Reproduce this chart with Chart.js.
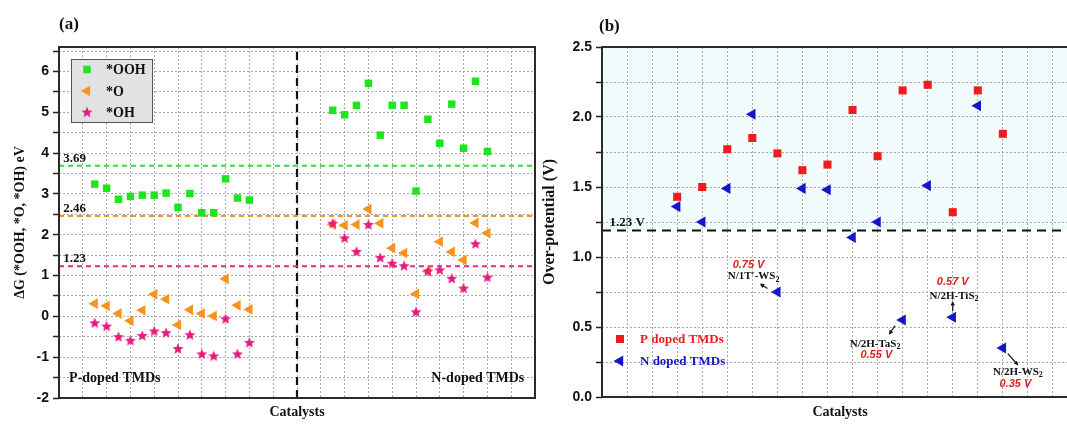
<!doctype html>
<html>
<head>
<meta charset="utf-8">
<title>Free energies and over-potentials of doped TMDs</title>
<script src="https://cdn.jsdelivr.net/npm/chart.js@4.4.0/dist/chart.umd.min.js"></script>
<style>
html, body { margin:0; padding:0; background:#fff; overflow:hidden; }
#wrap { position:relative; width:1067px; height:424px; overflow:hidden; }
#chartA { position:absolute; left:0; top:0; }
#chartB { position:absolute; left:540px; top:0; }
</style>
</head>
<body>
<div id="wrap">
<canvas id="chartA" width="540" height="424"></canvas>
<canvas id="chartB" width="540" height="424"></canvas>
</div>

<script>
// ---- panel (a) data : catalyst slots on the x axis + dG values ----
var catP = [3, 4, 5, 6, 7, 8, 9, 10, 11, 12, 13, 14, 15, 16];
var catN = [23, 24, 25, 26, 27, 28, 29, 30, 31, 32, 33, 34, 35, 36];
var oohP = [3.24, 3.14, 2.87, 2.94, 2.97, 2.97, 3.02, 2.67, 3.01, 2.54, 2.54, 3.37, 2.90, 2.85];
var oP   = [0.31, 0.26, 0.07, -0.11, 0.15, 0.54, 0.42, -0.21, 0.16, 0.07, 0.01, 0.92, 0.27, 0.17];
var ohP  = [-0.17, -0.25, -0.51, -0.60, -0.48, -0.37, -0.41, -0.80, -0.46, -0.93, -0.98, -0.07, -0.93, -0.65];
var oohN = [5.05, 4.94, 5.17, 5.71, 4.44, 5.17, 5.17, 3.07, 4.83, 4.24, 5.20, 4.12, 5.76, 4.04];
var oN   = [2.25, 2.23, 2.25, 2.63, 2.28, 1.67, 1.55, 0.55, 1.10, 1.83, 1.58, 1.38, 2.29, 2.04];
var ohN  = [2.27, 1.91, 1.58, 2.24, 1.43, 1.29, 1.23, 0.10, 1.10, 1.13, 0.92, 0.68, 1.77, 0.95];
var refLines  = [3.69, 2.46, 1.23];
var refLabels = ['3.69', '2.46', '1.23'];
var splitAt = 20;   // P-doped | N-doped divider

// ---- panel (b) data : over-potential (V) ----
var catB  = [3, 4, 5, 6, 7, 8, 9, 10, 11, 12, 13, 14, 15, 16];
var overP = [1.43, 1.50, 1.77, 1.85, 1.74, 1.62, 1.66, 2.05, 1.72, 2.19, 2.23, 1.32, 2.19, 1.88];
var overN = [1.36, 1.25, 1.49, 2.02, 0.75, 1.49, 1.48, 1.14, 1.25, 0.55, 1.51, 0.57, 2.08, 0.35];
var limitB = 1.19;
var limitLabel = '1.23 V';

var serif = '"Liberation Serif", "Times New Roman", serif';
var sans = '"Liberation Sans", Arial, sans-serif';
var green = '#1ee61e', orange = '#f7941d', pink = '#e8197f';
var red = '#ee1c1c', blue = '#1414cc';
var gridCol = '#a8a8a8';

function pts(xs, ys) {
  return xs.map(function (x, i) { return { x: x, y: ys[i] }; });
}

// filled five-point star used as point style
function starImg(color, r) {
  var c = document.createElement('canvas');
  var s = Math.ceil(r * 2) + 2;
  c.width = c.height = s;
  var g = c.getContext('2d');
  g.fillStyle = color;
  g.beginPath();
  for (var k = 0; k < 10; k++) {
    var rr = k % 2 ? r * 0.45 : r;
    var a = -Math.PI / 2 + k * Math.PI / 5;
    var px = s / 2 + rr * Math.cos(a), py = s / 2 + rr * Math.sin(a);
    if (k) g.lineTo(px, py); else g.moveTo(px, py);
  }
  g.closePath();
  g.fill();
  return c;
}
var star = starImg(pink, 5.8);

function marker(ctx, ds, x, y) {
  ctx.save();
  ctx.fillStyle = ds.backgroundColor;
  ctx.strokeStyle = ds.backgroundColor;
  Chart.helpers.drawPoint(ctx, { pointStyle: ds.pointStyle, radius: ds.pointRadius, rotation: ds.rotation || 0, borderWidth: 0 }, x, y);
  ctx.restore();
}

// text with a trailing subscript, centred on cx
function subText(ctx, main, sub, cx, y, size) {
  ctx.font = 'bold ' + size + 'px ' + serif;
  var w1 = ctx.measureText(main).width;
  ctx.font = 'bold ' + (size - 3) + 'px ' + serif;
  var w2 = ctx.measureText(sub).width;
  var x0 = cx - (w1 + w2) / 2;
  ctx.textAlign = 'left';
  ctx.font = 'bold ' + size + 'px ' + serif;
  ctx.fillText(main, x0, y);
  ctx.font = 'bold ' + (size - 3) + 'px ' + serif;
  ctx.fillText(sub, x0 + w1, y + 3);
}

function arrow(ctx, x1, y1, x2, y2) {
  var ang = Math.atan2(y2 - y1, x2 - x1), h = 5;
  ctx.beginPath();
  ctx.moveTo(x1, y1);
  ctx.lineTo(x2 - Math.cos(ang) * 3, y2 - Math.sin(ang) * 3);
  ctx.stroke();
  ctx.beginPath();
  ctx.moveTo(x2, y2);
  ctx.lineTo(x2 - h * Math.cos(ang - 0.45), y2 - h * Math.sin(ang - 0.45));
  ctx.lineTo(x2 - h * Math.cos(ang + 0.45), y2 - h * Math.sin(ang + 0.45));
  ctx.closePath();
  ctx.fill();
}

function frame(ctx, a) {
  ctx.strokeStyle = '#2b2b2b';
  ctx.lineWidth = 2;
  ctx.strokeRect(a.left, a.top, a.right - a.left, a.bottom - a.top);
}

/* ================= panel (a) ================= */
var panelA = {
  id: 'panelA',
  afterDraw: function (chart) {
    var ctx = chart.ctx, a = chart.chartArea, xs = chart.scales.x, ys = chart.scales.y;
    ctx.save();
    frame(ctx, a);
    ctx.fillStyle = '#111';
    ctx.textBaseline = 'middle';
    ctx.font = 'bold 17px ' + serif;
    ctx.fillText('(a)', a.left, 25);

    // labels on the reference lines
    ctx.textBaseline = 'alphabetic';
    ctx.font = 'bold 13px ' + serif;
    refLines.forEach(function (v, i) {
      ctx.fillText(refLabels[i], xs.getPixelForValue(0.35), ys.getPixelForValue(v) - 4);
    });

    ctx.font = 'bold 14px ' + serif;
    ctx.textAlign = 'left';
    ctx.fillText('P-doped TMDs', xs.getPixelForValue(0.85), ys.getPixelForValue(-1.6));
    ctx.textAlign = 'right';
    ctx.fillText('N-doped TMDs', xs.getPixelForValue(39.1), ys.getPixelForValue(-1.6));

    // legend box
    var bx = a.left + 12, by = a.top + 12, bw = 81, bh = 63;
    ctx.fillStyle = '#e2e2e2';
    ctx.fillRect(bx, by, bw, bh);
    ctx.strokeStyle = '#555';
    ctx.lineWidth = 1;
    ctx.strokeRect(bx + 0.5, by + 0.5, bw, bh);
    var order = [0, 2, 1];
    ctx.textAlign = 'left';
    ctx.textBaseline = 'middle';
    ctx.font = 'bold 14px ' + serif;
    order.forEach(function (di, r) {
      var ds = chart.data.datasets[di];
      var yy = by + 10.5 + r * 21.5;
      marker(ctx, ds, bx + 16, yy);
      ctx.fillStyle = '#111';
      ctx.fillText(ds.label, bx + 35, yy + 1);
    });
    ctx.restore();
  }
};

var dsA = [
  { label: '*OOH', data: pts(catP, oohP).concat(pts(catN, oohN)), pointStyle: 'rect', pointRadius: 5.3,
    backgroundColor: green, borderColor: green, borderWidth: 0, order: 1 },
  { label: '*OH', data: pts(catP, ohP).concat(pts(catN, ohN)), pointStyle: star, pointRadius: 6,
    backgroundColor: pink, borderColor: pink, borderWidth: 0, order: 2 },
  { label: '*O', data: pts(catP, oP).concat(pts(catN, oN)), pointStyle: 'triangle', rotation: -90, pointRadius: 6.2,
    backgroundColor: orange, borderColor: orange, borderWidth: 0, order: 3 }
];
var refCols = ['#3ad83a', '#f39224', '#e6268a'];
refLines.forEach(function (v, i) {
  dsA.push({ label: '', type: 'line', data: [{ x: 0, y: v }, { x: 40, y: v }], borderColor: refCols[i],
    borderWidth: 2, borderDash: [5, 4], pointRadius: 0, order: 10 });
});
dsA.push({ label: '', type: 'line', data: [{ x: splitAt, y: -2 }, { x: splitAt, y: 6.6 }], borderColor: '#111',
  borderWidth: 2.2, borderDash: [8, 5], pointRadius: 0, order: 11 });

new Chart(document.getElementById('chartA'), {
  type: 'scatter',
  data: { datasets: dsA },
  options: {
    responsive: false,
    animation: false,
    events: [],
    layout: { padding: { top: 47, right: 5, left: 0, bottom: 0 }, autoPadding: false },
    plugins: { legend: { display: false }, tooltip: { enabled: false } },
    scales: {
      x: {
        type: 'linear', min: 0, max: 40,
        ticks: { stepSize: 2, display: false },
        grid: { color: gridCol, drawTicks: false },
        border: { display: false, dash: [2, 2] },
        title: { display: true, text: 'Catalysts', color: '#111',
          font: { family: serif, size: 14, weight: 'bold' }, padding: { top: 0, bottom: 3 } },
        afterFit: function (s) { s.height = 26; }
      },
      y: {
        min: -2, max: 6.6,
        ticks: { stepSize: 0.5, includeBounds: false, autoSkip: false, padding: 4, color: '#111',
          font: { family: sans, size: 14, weight: 'bold' },
          callback: function (v) { return Number.isInteger(v) ? v : ''; } },
        grid: { color: gridCol, tickLength: 6, tickColor: '#222', tickWidth: 1.5 },
        border: { display: false, dash: [2, 2] },
        title: { display: true, text: 'ΔG (*OOH, *O, *OH) eV', color: '#111',
          font: { family: serif, size: 14, weight: 'bold' }, padding: { top: 12, bottom: 0 } },
        afterFit: function (s) { s.width = 59; }
      }
    }
  },
  plugins: [panelA]
});

/* ================= panel (b) ================= */
var notesB = [
  { idx: 4,  name: 'N/1T\u2032-WS', nameAt: [6.05, 0.86],  valAt: [5.85, 0.94],  from: [6.6, 0.775],  to: [6.3, 0.81] },
  { idx: 9,  name: 'N/2H-TaS',      nameAt: [10.9, 0.38],  valAt: [10.95, 0.30], from: [11.7, 0.51],  to: [11.45, 0.445] },
  { idx: 11, name: 'N/2H-TiS',      nameAt: [14.05, 0.72], valAt: [14.0, 0.82],  from: [14.0, 0.615], to: [14.0, 0.685] },
  { idx: 13, name: 'N/2H-WS',       nameAt: [16.6, 0.18],  valAt: [16.5, 0.095], from: [16.2, 0.31],  to: [16.62, 0.225] }
];

var panelB = {
  id: 'panelB',
  beforeDraw: function (chart) {
    var ctx = chart.ctx, a = chart.chartArea, ys = chart.scales.y;
    ctx.save();
    ctx.fillStyle = '#f2fcfc';
    ctx.fillRect(a.left, a.top, a.right - a.left, ys.getPixelForValue(limitB) - a.top);
    ctx.restore();
  },
  afterDraw: function (chart) {
    var ctx = chart.ctx, a = chart.chartArea, xs = chart.scales.x, ys = chart.scales.y;
    var X = function (v) { return xs.getPixelForValue(v); };
    var Y = function (v) { return ys.getPixelForValue(v); };
    ctx.save();
    frame(ctx, a);
    ctx.fillStyle = '#111';
    ctx.textBaseline = 'middle';
    ctx.font = 'bold 17px ' + serif;
    ctx.fillText('(b)', a.left - 3, 27);

    ctx.textBaseline = 'alphabetic';
    ctx.font = 'bold 13px ' + serif;
    ctx.fillText(limitLabel, X(0.3), Y(limitB) - 4);

    // legend
    var ds = chart.data.datasets;
    ctx.textBaseline = 'middle';
    ctx.font = 'bold 13px ' + serif;
    [[0, red], [1, blue]].forEach(function (p, r) {
      var yy = a.bottom - 58 + r * 22;
      marker(ctx, ds[p[0]], a.left + 18, yy);
      ctx.fillStyle = p[1];
      ctx.fillText(ds[p[0]].label, a.left + 38, yy + 1);
    });

    // callouts
    ctx.textBaseline = 'middle';
    notesB.forEach(function (n) {
      ctx.fillStyle = '#111';
      subText(ctx, n.name, '2', X(n.nameAt[0]), Y(n.nameAt[1]), 11);
      ctx.fillStyle = '#e02020';
      ctx.textAlign = 'center';
      ctx.font = 'italic bold 11px ' + sans;
      ctx.fillText(overN[n.idx].toFixed(2) + ' V', X(n.valAt[0]), Y(n.valAt[1]));
      ctx.fillStyle = '#111';
      ctx.strokeStyle = '#111';
      ctx.lineWidth = 1.2;
      arrow(ctx, X(n.from[0]), Y(n.from[1]), X(n.to[0]), Y(n.to[1]));
    });
    ctx.restore();
  }
};

new Chart(document.getElementById('chartB'), {
  type: 'scatter',
  data: {
    datasets: [
      { label: 'P doped TMDs', data: pts(catB, overP), pointStyle: 'rect', pointRadius: 5.7,
        backgroundColor: red, borderColor: red, borderWidth: 0, order: 1 },
      { label: 'N doped TMDs', data: pts(catB, overN), pointStyle: 'triangle', rotation: -90, pointRadius: 6.4,
        backgroundColor: blue, borderColor: blue, borderWidth: 0, order: 2 },
      { label: '', type: 'line', data: [{ x: 0, y: limitB }, { x: 19, y: limitB }], borderColor: '#111',
        borderWidth: 2, borderDash: [9, 6], pointRadius: 0, order: 10 }
    ]
  },
  options: {
    responsive: false,
    animation: false,
    events: [],
    layout: { padding: { top: 47, right: 2, left: 0, bottom: 0 }, autoPadding: false },
    plugins: { legend: { display: false }, tooltip: { enabled: false } },
    scales: {
      x: {
        type: 'linear', min: 0, max: 19,
        ticks: { stepSize: 1, display: false },
        grid: { color: gridCol, drawTicks: false },
        border: { display: false, dash: [2, 2] },
        title: { display: true, text: 'Catalysts', color: '#111',
          font: { family: serif, size: 14, weight: 'bold' }, padding: { top: 0, bottom: 3 } },
        afterFit: function (s) { s.height = 27; }
      },
      y: {
        min: 0, max: 2.5,
        ticks: { stepSize: 0.25, autoSkip: false, padding: 4, color: '#111',
          font: { family: sans, size: 14, weight: 'bold' },
          callback: function (v) { return Math.abs(v * 2 - Math.round(v * 2)) < 1e-9 ? v.toFixed(1) : ''; } },
        grid: { color: gridCol, tickLength: 6, tickColor: '#222', tickWidth: 1.5 },
        border: { display: false, dash: [2, 2] },
        title: { display: true, text: 'Over-potential (V)', color: '#111',
          font: { family: serif, size: 16, weight: 'bold' }, padding: { top: 0, bottom: 0 } },
        afterFit: function (s) { s.width = 62; }
      }
    }
  },
  plugins: [panelB]
});
</script>
</body>
</html>
